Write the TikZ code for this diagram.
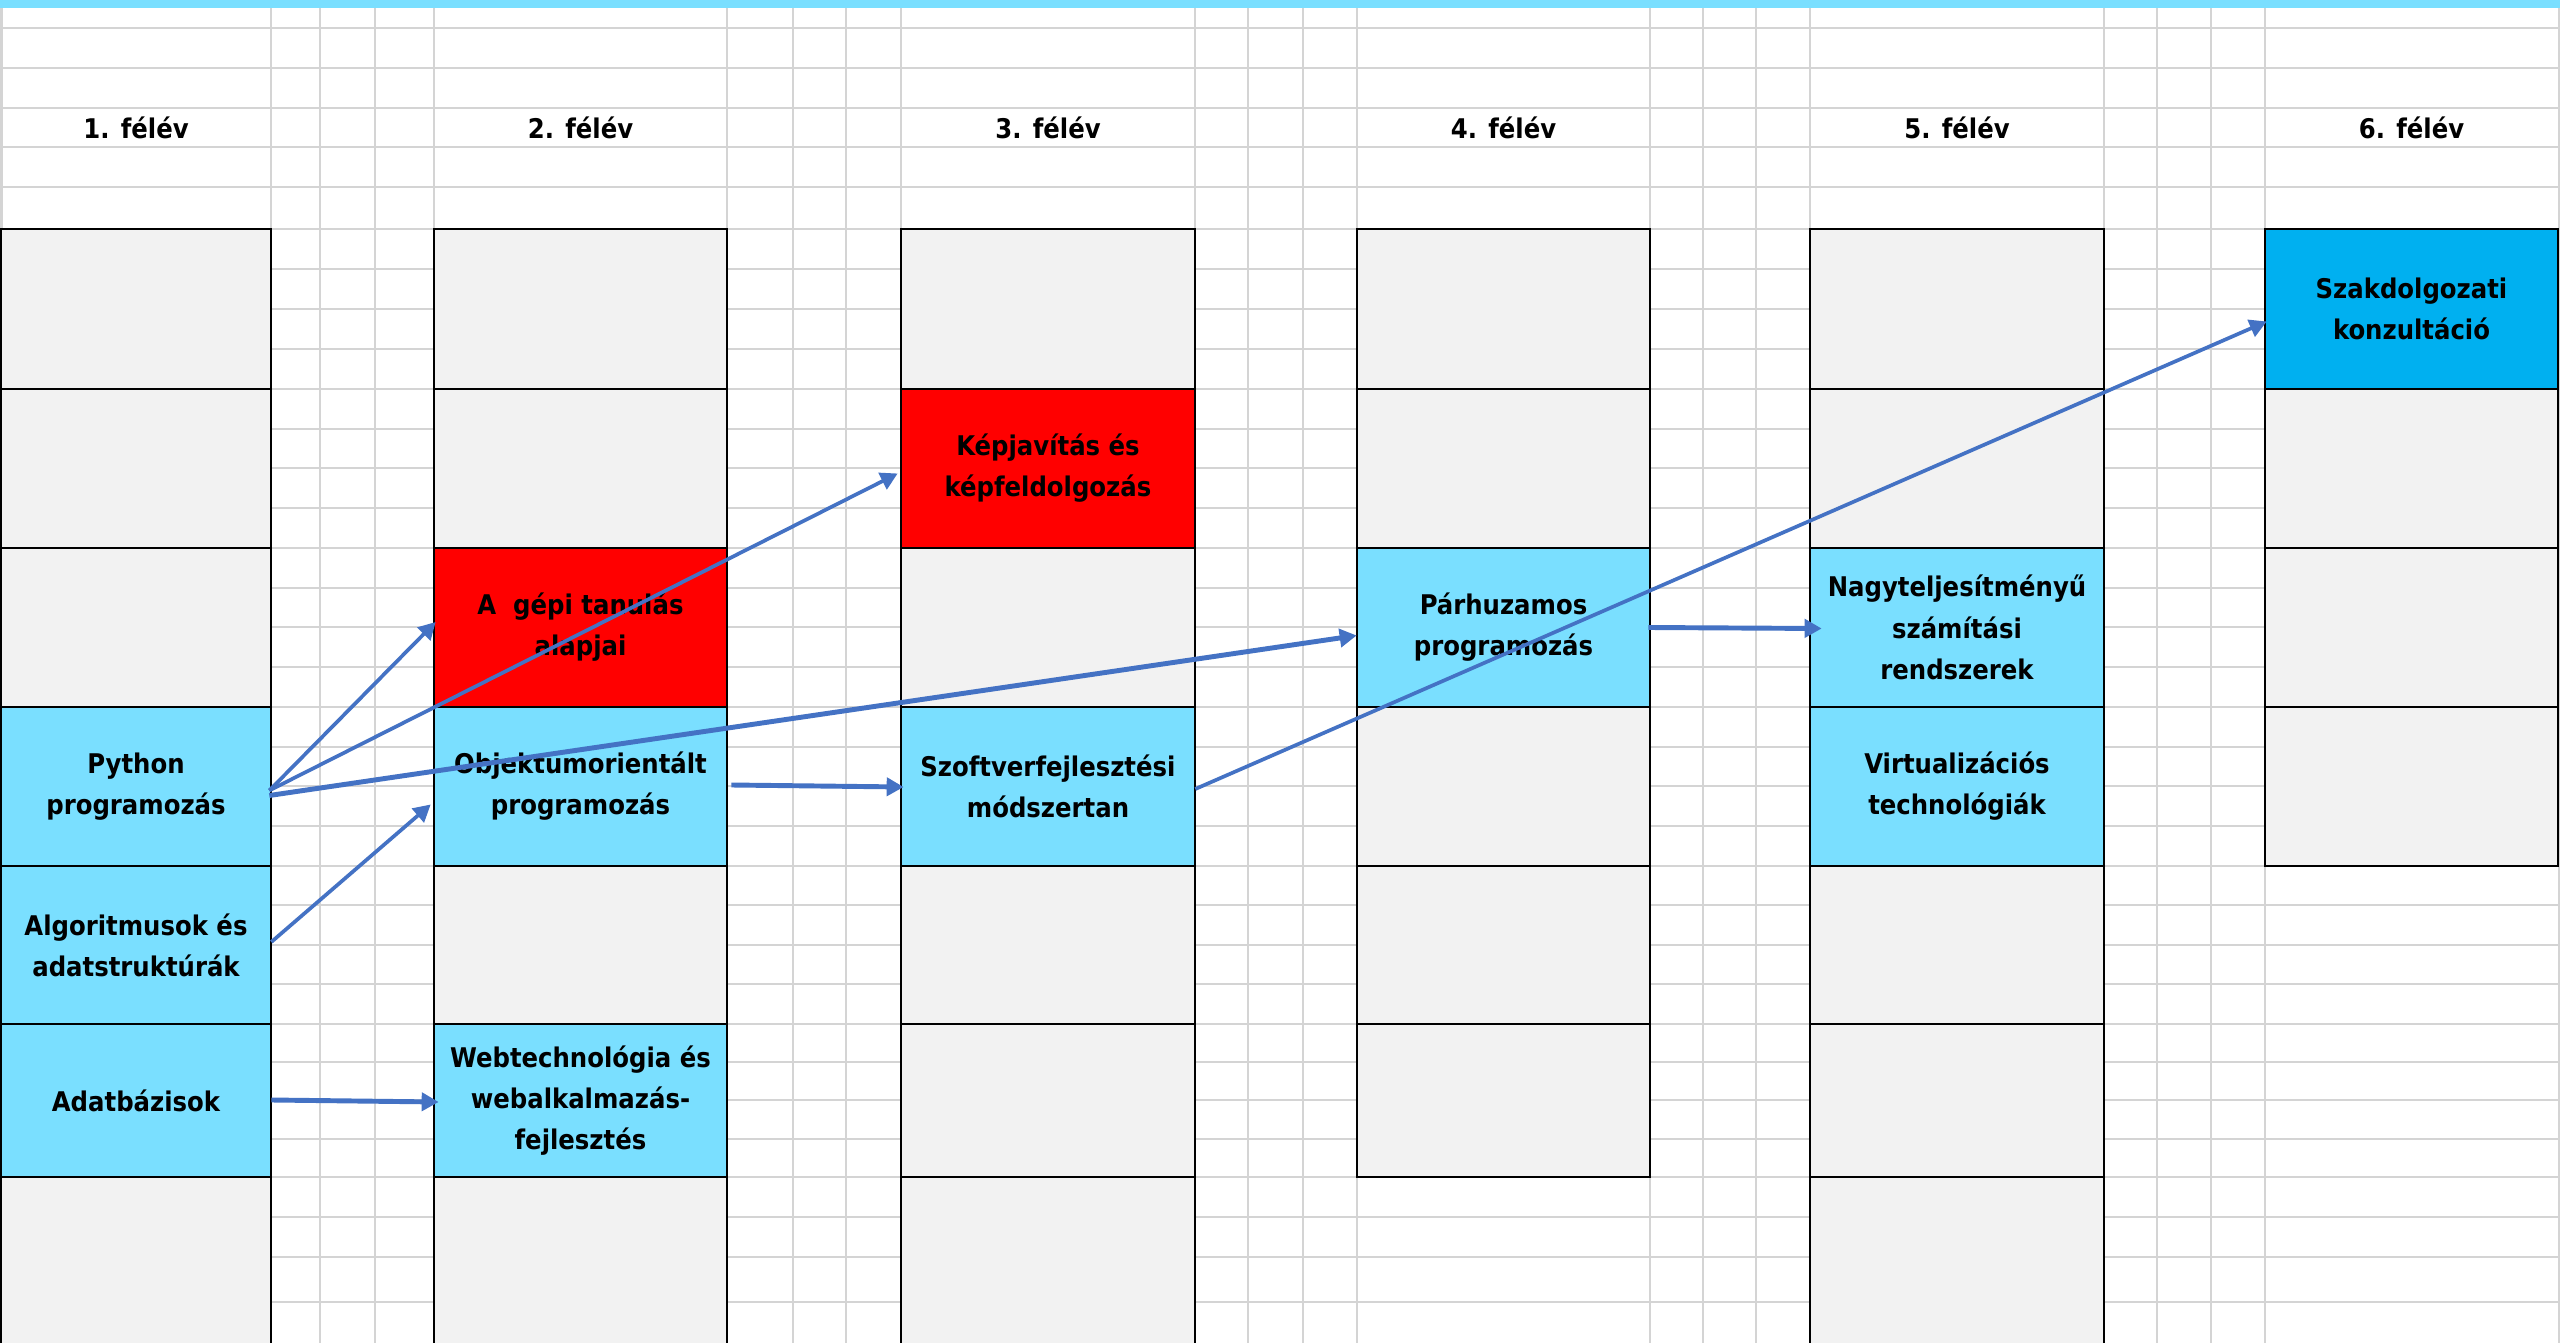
\documentclass[tikz,border=0pt]{standalone}
\usepackage{fontspec}
\setmainfont{DejaVu Sans Condensed}
\usetikzlibrary{arrows.meta,calc}

\definecolor{cellblue}{RGB}{122,223,255}
\definecolor{cellred}{RGB}{255,0,0}
\definecolor{cellsky}{RGB}{0,176,240}
\definecolor{cellgray}{RGB}{242,242,242}
\definecolor{gridgray}{RGB}{212,212,212}
\definecolor{linkblue}{RGB}{68,114,196}

\newcommand\cellfont{\fontsize{7.7}{11.7}\selectfont\bfseries}

% one cell of a semester column: name, left x, right x, top y, bottom y, style, text
\newcommand\blk[7]{%
  \node[cellbox,#6,minimum width={(#3-#2)*0.01cm},minimum height={(#5-#4)*0.01cm}]
    (#1) at ({(#2+#3)/2},{(#4+#5)/2}) {#7};}

\begin{document}
\begin{tikzpicture}[x=0.01cm,y=-0.01cm,
  gridline/.style={draw=gridgray,line width=0.77pt},
  cellbox/.style={draw=black,line width=0.75pt,inner sep=0pt,align=center,font=\cellfont},
  emptycell/.style={fill=cellgray},
  course/.style={fill=cellblue},
  project/.style={fill=cellred},
  thesis/.style={fill=cellsky},
  header/.style={inner sep=0pt,font=\cellfont},
  link/.style={draw=linkblue,line width=1.05pt,-{Triangle[length=0.17cm,width=0.18cm]}},
  thicklink/.style={link,line width=1.4pt}]

\useasboundingbox (0,0) rectangle (2560,1343);
\clip (0,0) rectangle (2560,1343);

% spreadsheet background
\fill[white] (0,0) rectangle (2560,1343);
\foreach \x in {1.5,271,320,375,434,727,793,846,901,1195,1248,1303,1357,1650,1703,1756,1810,2104,2157,2211,2265,2559}
  \draw[gridline] (\x,8) -- (\x,1343);
\foreach \y in {28,68,108,147,187,229,269,309,349,389,429,468,508,548,588,627,667,707,747,786,826,866,905,945,984,1024,1062,1100,1139,1177,1217,1257,1302}
  \draw[gridline] (0,\y) -- (2560,\y);
\fill[cellblue] (0,0) rectangle (2560,8);

% semester headings
\node[header] (h1) at (136,127.5) {1. félév};
\node[header] (h2) at (580.5,127.5) {2. félév};
\node[header] (h3) at (1048,127.5) {3. félév};
\node[header] (h4) at (1503.5,127.5) {4. félév};
\node[header] (h5) at (1957,127.5) {5. félév};
\node[header] (h6) at (2411.5,127.5) {6. félév};

% empty slots
\foreach \c/\xl/\xr/\blist in {1/1/271/{0,1,2,6},2/434/727/{0,1,4,6},3/901/1195/{0,2,4,5,6},
                                4/1357/1650/{0,1,3,4,5},5/1810/2104/{0,1,4,5,6},6/2265/2558/{1,2,3}}{
  \foreach \k in \blist {
    \pgfmathsetmacro\yt{{229,389,548,707,866,1024,1177}[\k]}
    \pgfmathsetmacro\yb{{389,548,707,866,1024,1177,1400}[\k]}
    \blk{e\c-\k}{\xl}{\xr}{\yt}{\yb}{emptycell}{}
  }
}

% courses
\blk{py}{1}{271}{707}{866}{course}{Python\\programozás}
\blk{algo}{1}{271}{866}{1024}{course}{Algoritmusok és\\adatstruktúrák}
\blk{adat}{1}{271}{1024}{1177}{course}{Adatbázisok}
\blk{gepi}{434}{727}{548}{707}{project}{A\ \ gépi tanulás\\alapjai}
\blk{obj}{434}{727}{707}{866}{course}{Objektumorientált\\programozás}
\blk{web}{434}{727}{1024}{1177}{course}{Webtechnológia és\\webalkalmazás-\\fejlesztés}
\blk{kep}{901}{1195}{389}{548}{project}{Képjavítás és\\képfeldolgozás}
\blk{szoft}{901}{1195}{707}{866}{course}{Szoftverfejlesztési\\módszertan}
\blk{par}{1357}{1650}{548}{707}{course}{Párhuzamos\\programozás}
\blk{nagy}{1810}{2104}{548}{707}{course}{Nagyteljesítményű\\számítási\\rendszerek}
\blk{virt}{1810}{2104}{707}{866}{course}{Virtualizációs\\technológiák}
\blk{szak}{2265}{2558}{229}{389}{thesis}{Szakdolgozati\\konzultáció}

% prerequisites
\draw[link] ($(py.east)+(-3,4)$) -- ($(gepi.west)+(3,-5.5)$);
\draw[link] ($(py.east)+(-3,4)$) -- ($(kep.west)+(-2,5)$);
\draw[thicklink] ($(py.east)+(-3,9)$) -- ($(par.west)+(1,8)$);
\draw[link] ($(algo.east)+(-1,-3)$) -- ($(obj.west)+(-2,18)$);
\draw[thicklink] ($(adat.east)+(-1,-0.5)$) -- ($(web.west)+(6,1.5)$);
\draw[thicklink] ($(obj.east)+(3,-1.5)$) -- ($(szoft.west)+(4,0.5)$);
\draw[link] ($(szoft.east)+(-1,2.5)$) -- ($(szak.west)+(3,12.5)$);
\draw[thicklink] ($(par.east)+(-3,0)$) -- ($(nagy.west)+(13,1)$);

\end{tikzpicture}
\end{document}
